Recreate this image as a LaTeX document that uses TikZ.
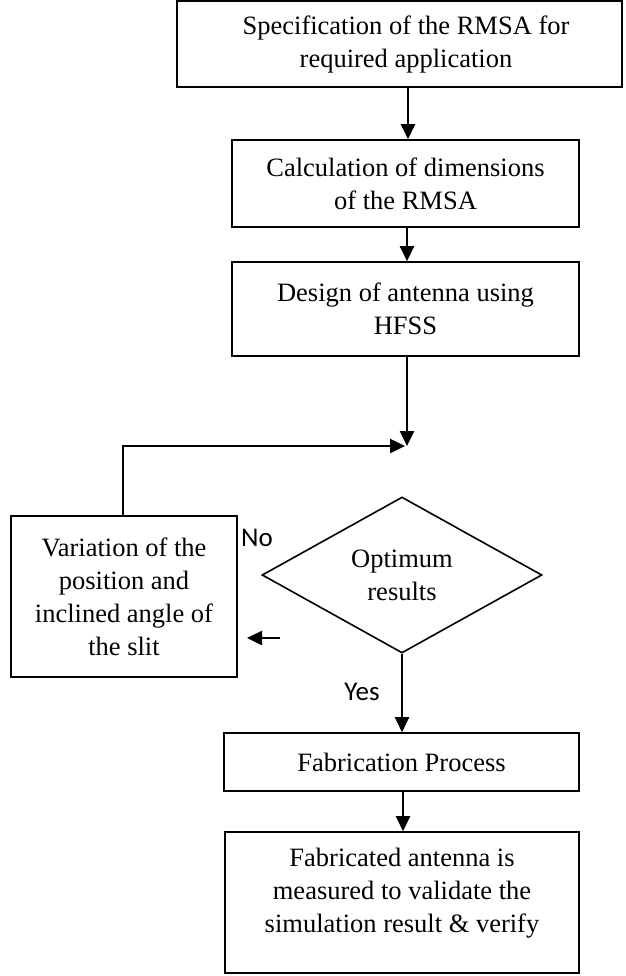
\documentclass[tikz,border=0pt]{standalone}
\usepackage{fontspec}
\setmainfont{Liberation Serif}
\newfontfamily\lblfont{Carlito}
\usetikzlibrary{shapes.geometric,arrows.meta}
\begin{document}
\begin{tikzpicture}[x=1pt,y=-1pt,
  box/.style={draw,line width=1.6pt,rectangle,inner sep=0pt,align=center,
    font=\fontsize{26.5}{33}\selectfont},
  txt/.style={inner sep=0pt,align=center,font=\fontsize{26.5}{33}\selectfont},
  dia/.style={draw,line width=1.6pt,diamond,inner sep=0pt,align=center,
    minimum width=280pt,minimum height=156pt,font=\fontsize{26.5}{33}\selectfont},
  arr/.style={line width=2.5pt,-{Triangle[width=14pt,length=15pt]}},
  lbl/.style={font=\lblfont\fontsize{27}{30}\selectfont,inner sep=0pt}]
\useasboundingbox (0,0) rectangle (625,976);
\node[box,minimum width=445pt,minimum height=86pt] (b1) at (399.5,44) {};
\node[txt] (b1t) at (406,44) {Specification of the RMSA for\\required application};
\node[box,minimum width=347pt,minimum height=87pt] (b2) at (405.5,183.5)
  {Calculation of dimensions\\of the RMSA};
\node[box,minimum width=347pt,minimum height=94pt] (b3) at (405.5,309)
  {Design of antenna using\\HFSS};
\node[box,minimum width=226pt,minimum height=161pt] (b4) at (124,596.5)
  {Variation of the\\position and\\inclined angle of\\the slit};
\node[dia] (d) at (402,575) {Optimum\\results};
\node[box,minimum width=355pt,minimum height=58pt] (b5) at (401.5,762)
  {Fabrication Process};
\node[box,minimum width=354pt,minimum height=141pt] (b6) at (402,902.5) {};
\node[txt] (b6t) at (402,893)
  {Fabricated antenna is\\measured to validate the\\simulation result \& verify};
\coordinate (j) at (405,446);
\coordinate (s1) at (280,638);
\coordinate (s2) at (247,638);
\node[lbl] (no) at (257,538) {No};
\node[lbl] (yes) at (362,692) {Yes};
\draw[arr] (b1.south -| 408,0) -- (b2.north -| 408,0);
\draw[arr] (b2.south -| 407,0) -- (b3.north -| 407,0);
\draw[arr] (b3.south -| 407,0) -- (407,446);
\draw[arr] (b4.north -| 123,0) -- (123,446) -- (j);
\draw[arr] (d.south) -- (b5.north -| d.south);
\draw[arr] (b5.south -| 403,0) -- (b6.north -| 403,0);
\draw[arr] (s1) -- (s2);
\end{tikzpicture}
\end{document}
